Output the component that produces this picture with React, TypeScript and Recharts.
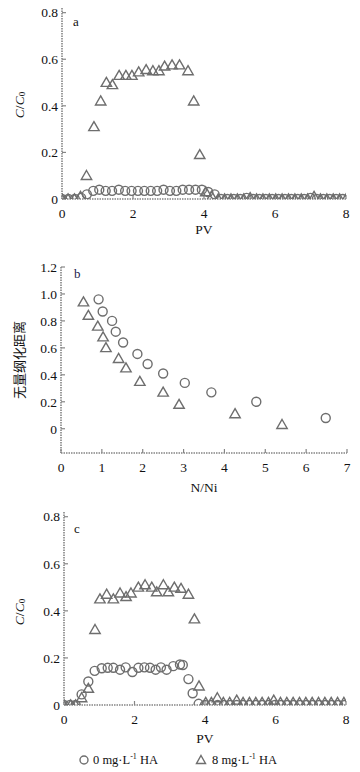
import React from "react";
import { ScatterChart, Scatter, XAxis, YAxis } from "recharts";

// ---- Panel a (C/C0 vs PV) ----
const aCircX = [0, 0.18, 0.36, 0.54, 0.7, 0.88, 1.05, 1.23, 1.41, 1.6, 1.78, 1.96, 2.14, 2.32, 2.5, 2.68, 2.86, 3.04, 3.22, 3.4, 3.58, 3.76, 3.94, 4.12, 4.3, 4.48, 4.66, 4.84, 5.02, 5.2, 5.38, 5.56, 5.74, 5.92, 6.1, 6.28, 6.46, 6.64, 6.82, 7.0, 7.18, 7.36, 7.54, 7.72, 7.9];
const aCircY = [0, 0, 0, 0.005, 0.02, 0.035, 0.04, 0.035, 0.035, 0.04, 0.035, 0.035, 0.035, 0.035, 0.035, 0.035, 0.04, 0.035, 0.035, 0.04, 0.04, 0.04, 0.04, 0.03, 0.02, 0, 0, 0, 0, 0.005, 0, 0, 0, 0, 0, 0, 0, 0, 0, 0.005, 0, 0, 0, 0, 0];
const aTriX = [0, 0.17, 0.35, 0.52, 0.69, 0.9, 1.09, 1.25, 1.42, 1.61, 1.8, 1.97, 2.16, 2.37, 2.56, 2.73, 2.89, 3.1, 3.31, 3.55, 3.71, 3.88, 4.05, 4.22, 4.4, 4.58, 4.76, 4.94, 5.12, 5.3, 5.48, 5.66, 5.84, 6.02, 6.2, 6.38, 6.56, 6.74, 6.92, 7.1, 7.28, 7.46, 7.64, 7.82, 8.0];
const aTriY = [0, 0, 0, 0.01, 0.1, 0.31, 0.42, 0.5, 0.49, 0.53, 0.53, 0.53, 0.545, 0.555, 0.55, 0.55, 0.57, 0.575, 0.575, 0.55, 0.42, 0.19, 0.03, 0.01, 0, 0, 0, 0, 0, 0.005, 0, 0, 0, 0, 0, 0, 0, 0, 0, 0.01, 0, 0, 0, 0, 0];

// ---- Panel b (dimensionless distance vs N/Ni) ----
const bCircX = [0.92, 1.02, 1.25, 1.34, 1.52, 1.87, 2.12, 2.5, 3.03, 3.68, 4.78, 6.48];
const bCircY = [0.96, 0.87, 0.8, 0.72, 0.64, 0.555, 0.48, 0.41, 0.34, 0.27, 0.2, 0.08];
const bTriX = [0.55, 0.67, 0.9, 1.03, 1.1, 1.41, 1.59, 1.93, 2.5, 2.89, 4.26, 5.41];
const bTriY = [0.94, 0.84, 0.76, 0.68, 0.6, 0.52, 0.45, 0.35, 0.27, 0.18, 0.11, 0.03];

// ---- Panel c (C/C0 vs PV) ----
const cCircX = [0, 0.17, 0.33, 0.5, 0.69, 0.87, 1.07, 1.24, 1.4, 1.59, 1.75, 1.94, 2.11, 2.28, 2.44, 2.6, 2.75, 2.91, 3.1, 3.29, 3.37, 3.53, 3.65, 3.82, 4.0, 4.18, 4.36, 4.54, 4.72, 4.9, 5.08, 5.26, 5.44, 5.62, 5.8, 5.98, 6.16, 6.34, 6.52, 6.7, 6.88, 7.06, 7.24, 7.42, 7.6, 7.78, 7.96];
const cCircY = [0, 0, 0, 0.045, 0.1, 0.145, 0.156, 0.158, 0.158, 0.15, 0.16, 0.14, 0.158, 0.16, 0.158, 0.15, 0.16, 0.15, 0.165, 0.172, 0.17, 0.11, 0.05, 0.005, 0, 0, 0, 0, 0, 0, 0, 0, 0, 0, 0, 0, 0, 0, 0, 0, 0, 0, 0, 0, 0, 0, 0];
const cTriX = [0, 0.19, 0.33, 0.5, 0.69, 0.88, 1.02, 1.21, 1.4, 1.59, 1.76, 1.9, 2.11, 2.3, 2.49, 2.63, 2.82, 2.96, 3.13, 3.32, 3.53, 3.7, 3.83, 4.02, 4.18, 4.35, 4.52, 4.7, 4.9, 5.08, 5.26, 5.44, 5.62, 5.8, 5.95, 6.14, 6.32, 6.5, 6.68, 6.86, 7.04, 7.22, 7.4, 7.58, 7.76, 7.94];
const cTriY = [0, 0, 0, 0.03, 0.07, 0.32, 0.45, 0.47, 0.45, 0.475, 0.46, 0.475, 0.5, 0.51, 0.5, 0.48, 0.51, 0.48, 0.5, 0.495, 0.47, 0.365, 0.08, 0.01, 0.01, 0.03, 0.01, 0.01, 0.02, 0.01, 0.01, 0.01, 0.01, 0.01, 0.02, 0.01, 0.01, 0.01, 0.01, 0.01, 0.01, 0.01, 0.01, 0.01, 0.01, 0.01];

const pvTicks = [0, 2, 4, 6, 8];
const ccTicks = [0, 0.2, 0.4, 0.6, 0.8];
const nTicks = [0, 1, 2, 3, 4, 5, 6, 7];
const dTicks = [0, 0.2, 0.4, 0.6, 0.8, 1.0, 1.2];

const legendLabels = ["0 mg·L", "8 mg·L"];

const toPts = (xs: number[], ys: number[]) => xs.map((x, i) => ({ x, y: ys[i] }));

const MARK = "#6e6e6e";
const AXIS = "#858585";
const SERIF = "'Liberation Serif', 'DejaVu Serif', serif";
const TICKFONT = { fontFamily: SERIF, fontSize: 13.5, fill: "#111" };

const CircleShape = (p: any) => (
  <circle cx={p.cx} cy={p.cy} r={4.5} fill="none" stroke={MARK} strokeWidth={1.4} />
);
const TriShape = (p: any) => (
  <path
    d={`M${p.cx},${p.cy - 5.2} L${p.cx + 5.2},${p.cy + 3.8} L${p.cx - 5.2},${p.cy + 3.8} Z`}
    fill="none"
    stroke={MARK}
    strokeWidth={1.4}
  />
);

const axisLine = { stroke: AXIS, strokeWidth: 1.6, strokeDasharray: "1.5 1" };
const tickLine = { stroke: AXIS, strokeWidth: 1.2 };

const fmt1 = (v: number) => (v === 0 ? "0" : v.toFixed(1));

function Panel(props: {
  top: number;
  height: number;
  margin: any;
  yWidth: number;
  xDomain: [number, number];
  yDomain: [number, number];
  xTicks: number[];
  yTicks: number[];
  circ: { x: number; y: number }[];
  tri: { x: number; y: number }[];
  yFmt?: (v: number) => string;
  xh: number;
}) {
  return (
    <div style={{ position: "absolute", left: 0, top: props.top }}>
      <ScatterChart width={360} height={props.height} margin={props.margin}>
        <XAxis
          type="number"
          dataKey="x"
          domain={props.xDomain}
          ticks={props.xTicks}
          interval={0}
          allowDataOverflow
          height={props.xh}
          axisLine={axisLine}
          tickLine={tickLine}
          tickSize={-4}
          tickMargin={13}
          tick={TICKFONT}
        />
        <YAxis
          type="number"
          dataKey="y"
          domain={props.yDomain}
          ticks={props.yTicks}
          interval={0}
          allowDataOverflow
          width={props.yWidth}
          axisLine={axisLine}
          tickLine={tickLine}
          tickSize={-4}
          tickMargin={8}
          tick={TICKFONT}
          tickFormatter={props.yFmt}
        />
        <Scatter data={props.circ} shape={CircleShape} isAnimationActive={false} />
        <Scatter data={props.tri} shape={TriShape} isAnimationActive={false} />
      </ScatterChart>
    </div>
  );
}

export default function App() {
  return (
    <div
      style={{
        position: "absolute",
        left: 0,
        top: 0,
        width: 360,
        height: 772,
        background: "#fff",
        overflow: "hidden",
      }}
    >
      <Panel
        top={0}
        height={240}
        margin={{ top: 8, right: 14, bottom: 0, left: 0 }}
        yWidth={62}
        xh={41}
        xDomain={[0, 8]}
        yDomain={[0, 0.82]}
        xTicks={pvTicks}
        yTicks={ccTicks}
        circ={toPts(aCircX, aCircY)}
        tri={toPts(aTriX, aTriY)}
      />
      <Panel
        top={250}
        height={250}
        margin={{ top: 17, right: 13, bottom: 0, left: 0 }}
        yWidth={61}
        xh={47}
        xDomain={[0, 7]}
        yDomain={[-0.18, 1.2]}
        xTicks={nTicks}
        yTicks={dTicks}
        yFmt={fmt1}
        circ={toPts(bCircX, bCircY)}
        tri={toPts(bTriX, bTriY)}
      />
      <Panel
        top={500}
        height={240}
        margin={{ top: 12, right: 14, bottom: 0, left: 0 }}
        yWidth={64}
        xh={35}
        xDomain={[0, 8]}
        yDomain={[0, 0.82]}
        xTicks={pvTicks}
        yTicks={ccTicks}
        circ={toPts(cCircX, cCircY)}
        tri={toPts(cTriX, cTriY)}
      />
      <svg
        width={360}
        height={772}
        style={{ position: "absolute", left: 0, top: 0, pointerEvents: "none" }}
      >
        <g fontFamily={SERIF} fill="#111">
          <text x={73} y={21} fontSize={13} dominantBaseline="central">a</text>
          <text x={74} y={273} fontSize={13} fill="#1a1a4a" dominantBaseline="central">b</text>
          <text x={74} y={528} fontSize={13} dominantBaseline="central">c</text>

          <text x={204} y={229} fontSize={13.5} textAnchor="middle" dominantBaseline="central">PV</text>
          <text x={204} y={487} fontSize={13.5} textAnchor="middle" dominantBaseline="central">N/Ni</text>
          <text x={205} y={738} fontSize={13.5} textAnchor="middle" dominantBaseline="central">PV</text>

          <text transform="translate(19,105) rotate(-90)" fontSize={13.5} textAnchor="middle" dominantBaseline="central">
            <tspan fontStyle="italic">C</tspan>
            <tspan>/</tspan>
            <tspan fontStyle="italic">C</tspan>
            <tspan fontSize={9} dy={3}>0</tspan>
          </text>
          <text transform="translate(19,612) rotate(-90)" fontSize={13.5} textAnchor="middle" dominantBaseline="central">
            <tspan fontStyle="italic">C</tspan>
            <tspan>/</tspan>
            <tspan fontStyle="italic">C</tspan>
            <tspan fontSize={9} dy={3}>0</tspan>
          </text>
          <text
            transform="translate(18,360) rotate(-90)"
            fontSize={13}
            fontFamily="'Noto Sans CJK SC', sans-serif"
            textAnchor="middle"
            dominantBaseline="central"
          >
            无量纲化距离
          </text>

          <circle cx={84} cy={760} r={4} fill="none" stroke={MARK} strokeWidth={1.4} />
          <text x={93} y={764} fontSize={12.5}>
            {legendLabels[0]}
            <tspan fontSize={8} dy={-5}>-1</tspan>
            <tspan dy={5}> HA</tspan>
          </text>
          <path d="M201,755.5 L205.5,763.5 L196.5,763.5 Z" fill="none" stroke={MARK} strokeWidth={1.4} />
          <text x={212} y={764} fontSize={12.5}>
            {legendLabels[1]}
            <tspan fontSize={8} dy={-5}>-1</tspan>
            <tspan dy={5}> HA</tspan>
          </text>
        </g>
      </svg>
    </div>
  );
}
